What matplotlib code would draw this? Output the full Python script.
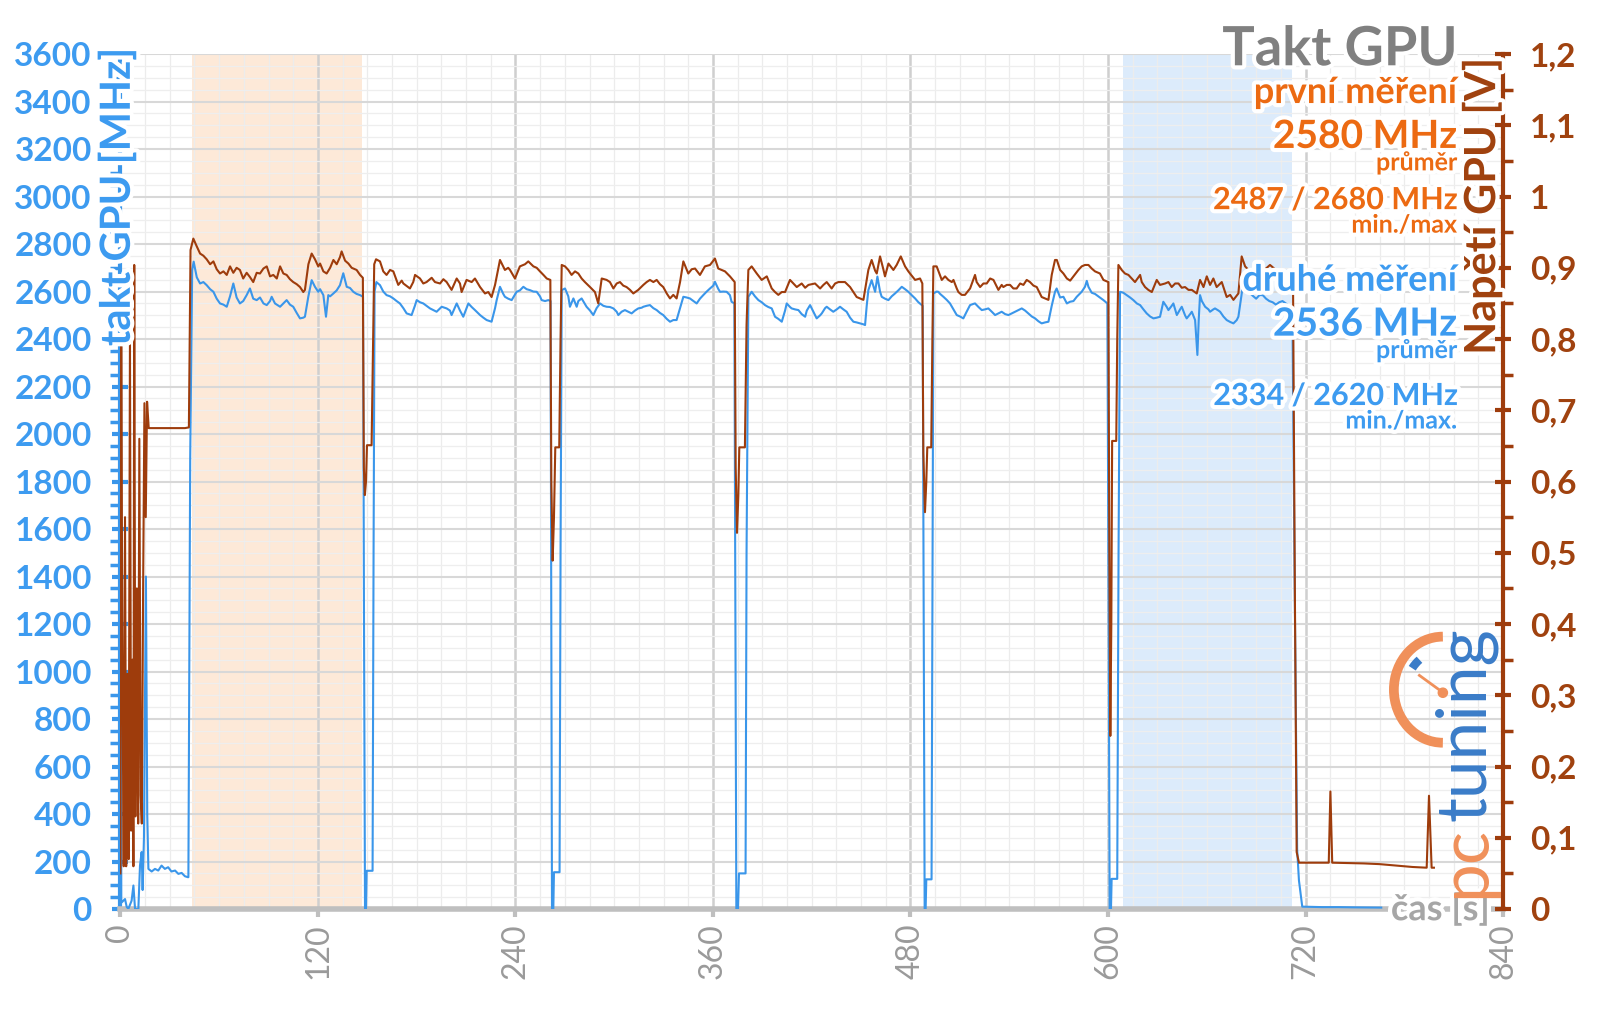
import matplotlib
matplotlib.use('Agg')
import matplotlib.pyplot as plt
import matplotlib.patheffects as pe
from matplotlib.patches import Arc, Circle
from matplotlib.ticker import MultipleLocator, FuncFormatter

# --- data: (time [s], clock [MHz]) for the 2nd run
blue_points = [
    (0.0, 2367), (0.5, 40), (0.8, 28), (2.8, 42), (3.8, 10), (4.8, 0), (6.8, 35), (7.9, 99),
    (8.9, 0), (10.9, 0), (11.9, 183), (12.9, 240), (13.5, 80), (14.3, 300), (15.5, 1400),
    (16.3, 400), (17.0, 169), (19.0, 158), (21.0, 169), (23.0, 162), (25.0, 183), (27.0, 169),
    (29.0, 176), (31.0, 158), (33.2, 162), (35.2, 148), (37.2, 152), (39.2, 138), (41.0, 134),
    (41.3, 134), (42.4, 1900), (43.6, 2690), (44.5, 2726), (46.4, 2660), (48.4, 2634),
    (50.4, 2640), (52.4, 2627), (54.5, 2610), (56.5, 2599), (58.5, 2570), (60.5, 2550),
    (62.6, 2545), (64.6, 2536), (66.6, 2580), (68.6, 2634), (70.6, 2575), (72.6, 2550),
    (74.6, 2560), (76.7, 2585), (78.7, 2613), (80.7, 2570), (82.8, 2564), (84.8, 2575),
    (86.9, 2550), (88.9, 2543), (90.9, 2560), (91.9, 2578), (93.9, 2550), (95.0, 2545),
    (97.0, 2536), (99.0, 2550), (101.0, 2564), (103.0, 2545), (105.0, 2536), (107.1, 2510),
    (109.1, 2487), (111.1, 2490), (112.1, 2494), (114.2, 2580), (116.2, 2648), (118.2, 2620),
    (120.2, 2599), (121.3, 2610), (123.3, 2585), (124.9, 2494), (126.3, 2585), (127.4, 2580),
    (129.4, 2592), (131.4, 2605), (133.4, 2627), (135.4, 2677), (137.5, 2620), (139.5, 2615),
    (141.5, 2599), (143.5, 2590), (145.6, 2585), (147.4, 2578),
    (148.0, 1200), (148.6, 0), (149.2, 0), (149.6, 161), (153.2, 161), (153.8, 1500),
    (154.4, 2600), (155.5, 2640), (157.7, 2627), (159.7, 2600), (161.7, 2585), (163.8, 2580),
    (165.8, 2571), (167.8, 2560), (169.8, 2550), (171.9, 2530), (173.9, 2508), (176.9, 2501),
    (178.9, 2540), (180.0, 2564), (182.0, 2555), (184.0, 2550), (186.0, 2540), (188.1, 2529),
    (190.1, 2522), (192.1, 2515), (195.2, 2536), (198.2, 2529), (200.2, 2520), (201.2, 2501),
    (204.3, 2550), (206.3, 2520), (208.3, 2494), (210.3, 2530), (211.4, 2550), (213.4, 2535),
    (215.4, 2522), (218.5, 2501), (220.5, 2490), (222.5, 2480), (225.5, 2473), (227.6, 2530),
    (228.6, 2564), (230.6, 2620), (232.6, 2590), (233.6, 2578), (235.6, 2570), (237.7, 2564),
    (240.7, 2599), (242.7, 2605), (244.8, 2620), (246.8, 2610), (248.8, 2606), (250.9, 2600),
    (252.9, 2599), (254.9, 2580), (255.9, 2564), (258.0, 2560), (260.0, 2564), (261.3, 2560),
    (261.8, 1200), (262.2, 0), (263.0, 0), (263.4, 155), (266.8, 155), (267.4, 1500),
    (268.1, 2606), (270.1, 2613), (272.1, 2580), (273.1, 2536), (275.2, 2571), (277.2, 2536),
    (278.2, 2560), (280.2, 2571), (283.2, 2536), (285.3, 2520), (287.3, 2501), (289.3, 2530),
    (291.4, 2550), (293.4, 2540), (295.4, 2536), (297.4, 2535), (299.5, 2529), (301.5, 2515),
    (302.5, 2501), (304.5, 2515), (306.5, 2522), (308.5, 2515), (310.6, 2508), (312.6, 2520),
    (314.6, 2529), (316.7, 2532), (317.7, 2536), (319.7, 2540), (321.7, 2543), (323.8, 2530),
    (325.8, 2522), (327.8, 2510), (329.8, 2501), (331.9, 2485), (333.9, 2473), (335.9, 2480),
    (337.9, 2480), (340.0, 2530), (342.0, 2578), (344.0, 2575), (346.0, 2571), (348.1, 2560),
    (350.1, 2550), (352.1, 2570), (354.1, 2585), (356.2, 2600), (358.2, 2613), (360.2, 2625),
    (361.2, 2641), (363.3, 2610), (364.3, 2599), (366.3, 2600), (368.3, 2599), (370.3, 2585),
    (371.3, 2557), (373.0, 2550),
    (373.6, 1200), (374.2, 0), (375.2, 0), (375.8, 150), (379.8, 150), (380.4, 1500),
    (381.5, 2578), (383.5, 2599), (385.5, 2580), (387.6, 2564), (389.6, 2555), (391.6, 2543),
    (393.6, 2535), (395.7, 2529), (397.7, 2494), (399.7, 2485), (401.8, 2473), (403.8, 2520),
    (404.8, 2550), (406.8, 2535), (407.8, 2529), (409.8, 2525), (411.9, 2522), (413.9, 2505),
    (416.0, 2494), (417.0, 2520), (419.0, 2543), (421.0, 2515), (423.0, 2487), (425.1, 2500),
    (426.1, 2508), (428.1, 2530), (429.1, 2536), (431.1, 2525), (433.1, 2515), (435.2, 2525),
    (437.2, 2536), (439.2, 2525), (441.2, 2515), (443.3, 2490), (445.3, 2473), (447.3, 2470),
    (449.3, 2466), (451.4, 2462), (452.4, 2459), (453.4, 2540), (454.4, 2606), (456.4, 2648),
    (458.5, 2599), (459.9, 2663), (461.5, 2600), (462.5, 2578), (464.5, 2570), (466.6, 2564),
    (468.6, 2580), (470.6, 2592), (472.6, 2605), (474.7, 2620), (476.7, 2610), (478.7, 2599),
    (480.7, 2585), (482.8, 2571), (484.8, 2555), (486.8, 2543), (487.4, 2540),
    (488.0, 1200), (488.6, 0), (489.2, 0), (489.6, 125), (492.8, 125), (493.4, 1500),
    (493.9, 2592), (495.9, 2600), (496.9, 2599), (498.0, 2590), (500.0, 2578), (502.0, 2565),
    (504.0, 2550), (506.1, 2525), (508.1, 2501), (510.1, 2495), (512.1, 2487), (514.1, 2515),
    (516.2, 2543), (518.2, 2548), (519.2, 2550), (521.3, 2535), (523.3, 2522), (525.3, 2525),
    (527.3, 2529), (529.4, 2515), (531.4, 2501), (533.4, 2508), (535.4, 2515), (537.5, 2505),
    (539.5, 2501), (541.5, 2508), (543.5, 2515), (545.6, 2522), (547.6, 2529), (549.6, 2520),
    (551.6, 2508), (553.7, 2495), (555.7, 2487), (557.7, 2475), (559.7, 2466), (561.7, 2470),
    (563.8, 2473), (565.8, 2540), (567.8, 2599), (568.8, 2613), (570.9, 2575), (572.9, 2578),
    (575.0, 2550), (576.9, 2557), (579.0, 2560), (581.0, 2578), (584.0, 2599), (586.0, 2620),
    (587.1, 2645), (588.1, 2620), (590.1, 2595), (592.1, 2590), (594.1, 2580), (596.2, 2570),
    (597.2, 2564), (599.6, 2550),
    (600.4, 1200), (601.0, 0), (601.8, 0), (602.2, 127), (605.6, 127), (606.4, 1500),
    (607.3, 2599), (609.3, 2595), (611.4, 2585), (613.4, 2575), (615.4, 2564), (617.5, 2550),
    (619.5, 2543), (621.5, 2525), (623.5, 2508), (625.6, 2495), (627.6, 2487), (629.6, 2490),
    (631.6, 2494), (633.6, 2557), (635.7, 2535), (636.7, 2522), (638.7, 2540), (639.7, 2550),
    (641.8, 2501), (643.8, 2525), (644.8, 2536), (646.8, 2500), (647.8, 2487), (649.9, 2505),
    (650.9, 2515), (652.9, 2480), (654.3, 2333), (655.1, 2480), (655.9, 2585), (657.0, 2560),
    (659.0, 2536), (661.0, 2525), (662.0, 2515), (664.0, 2525), (665.0, 2529), (667.1, 2520),
    (668.1, 2515), (670.1, 2495), (672.1, 2480), (674.2, 2472), (676.2, 2466), (678.2, 2480),
    (679.2, 2494), (681.0, 2580), (682.3, 2648), (684.3, 2615), (686.3, 2592), (688.3, 2580),
    (690.0, 2570), (692.0, 2585), (694.0, 2585), (696.0, 2570), (698.0, 2560), (700.0, 2555),
    (702.0, 2545), (704.0, 2555), (706.0, 2560), (708.0, 2550), (710.0, 2540), (712.0, 2535),
    (713.6, 1200), (714.9, 251), (716.0, 120), (718.0, 10), (730.0, 8), (740.0, 8),
    (750.0, 7), (766.0, 6),
]

# (time [s], GPU voltage [V])
brown_points = [
    (0.0, 0.05), (0.5, 0.79), (1.3, 0.30), (2.0, 0.06), (2.8, 0.55), (3.5, 0.06), (4.3, 0.33),
    (5.0, 0.07), (5.8, 0.80), (6.5, 0.11), (7.3, 0.35), (7.9, 0.06), (8.4, 0.904), (9.1, 0.13),
    (10.0, 0.45), (10.8, 0.12), (11.5, 0.66), (12.3, 0.16), (13.0, 0.12), (13.8, 0.45),
    (14.6, 0.71), (15.4, 0.55), (16.2, 0.712), (17.2, 0.675), (39.2, 0.675), (41.6, 0.676),
    (42.6, 0.925), (44.3, 0.941), (46.4, 0.930), (48.4, 0.920), (50.4, 0.917), (52.4, 0.912),
    (54.5, 0.905), (56.5, 0.909), (58.5, 0.898), (60.5, 0.892), (62.6, 0.895), (64.6, 0.890),
    (66.6, 0.902), (68.6, 0.893), (70.6, 0.900), (72.6, 0.897), (74.6, 0.885), (76.7, 0.893),
    (78.7, 0.887), (80.7, 0.880), (82.8, 0.893), (84.8, 0.892), (86.9, 0.899), (88.9, 0.902),
    (90.9, 0.888), (92.9, 0.890), (95.0, 0.885), (97.0, 0.902), (99.0, 0.892), (101.0, 0.890),
    (103.0, 0.884), (105.0, 0.880), (107.1, 0.877), (109.1, 0.873), (111.1, 0.866),
    (112.1, 0.869), (114.2, 0.905), (116.2, 0.920), (118.2, 0.912), (120.2, 0.902),
    (121.3, 0.906), (123.3, 0.895), (125.3, 0.892), (127.4, 0.900), (129.4, 0.911),
    (131.4, 0.905), (133.4, 0.915), (134.4, 0.923), (136.5, 0.910), (138.5, 0.906),
    (140.5, 0.900), (143.5, 0.897), (145.6, 0.890), (147.3, 0.886),
    (147.9, 0.62), (148.5, 0.581), (149.2, 0.60), (149.8, 0.651), (152.6, 0.651), (153.4, 0.78),
    (154.2, 0.905), (155.3, 0.912), (157.7, 0.909), (159.7, 0.895), (161.7, 0.890),
    (163.8, 0.897), (165.8, 0.895), (168.8, 0.876), (170.9, 0.882), (171.9, 0.878),
    (175.9, 0.871), (177.9, 0.880), (179.0, 0.890), (182.0, 0.885), (184.0, 0.878),
    (186.0, 0.880), (189.1, 0.886), (191.1, 0.880), (194.2, 0.878), (196.2, 0.884),
    (198.2, 0.880), (201.2, 0.869), (204.3, 0.885), (206.3, 0.878), (207.3, 0.866),
    (210.3, 0.883), (213.4, 0.880), (215.4, 0.885), (218.5, 0.873), (221.5, 0.864),
    (223.5, 0.866), (225.5, 0.859), (227.6, 0.876), (230.6, 0.911), (233.6, 0.897),
    (235.6, 0.900), (236.7, 0.897), (239.7, 0.885), (242.7, 0.902), (245.8, 0.905),
    (247.8, 0.909), (250.9, 0.902), (252.9, 0.900), (254.9, 0.895), (257.0, 0.890),
    (259.0, 0.885), (261.2, 0.883),
    (261.8, 0.60), (262.6, 0.489), (263.4, 0.55), (264.2, 0.648), (266.6, 0.648), (267.4, 0.80),
    (268.1, 0.904), (270.1, 0.902), (272.1, 0.897), (274.1, 0.890), (276.2, 0.895),
    (278.2, 0.892), (280.2, 0.885), (282.2, 0.880), (285.3, 0.873), (288.3, 0.866),
    (290.3, 0.850), (292.4, 0.885), (295.4, 0.883), (297.4, 0.880), (299.5, 0.871),
    (301.5, 0.878), (303.5, 0.880), (305.5, 0.875), (307.5, 0.873), (309.6, 0.869),
    (311.6, 0.864), (314.6, 0.869), (317.7, 0.876), (319.7, 0.880), (321.7, 0.883),
    (323.8, 0.880), (325.8, 0.883), (327.8, 0.877), (329.8, 0.873), (331.9, 0.864),
    (333.9, 0.857), (335.9, 0.862), (337.9, 0.857), (340.0, 0.880), (342.0, 0.909),
    (345.0, 0.892), (347.1, 0.898), (349.1, 0.899), (352.1, 0.890), (355.1, 0.902),
    (358.2, 0.904), (361.2, 0.913), (363.2, 0.899), (365.3, 0.897), (367.3, 0.895),
    (370.3, 0.888), (373.2, 0.880),
    (373.8, 0.62), (374.6, 0.528), (375.4, 0.58), (376.0, 0.648), (379.4, 0.648), (380.4, 0.82),
    (381.5, 0.897), (383.5, 0.902), (386.6, 0.892), (389.6, 0.883), (392.7, 0.888),
    (395.7, 0.871), (397.7, 0.866), (399.7, 0.862), (401.8, 0.866), (403.8, 0.866),
    (406.8, 0.883), (410.9, 0.873), (413.9, 0.878), (416.0, 0.872), (418.0, 0.876),
    (422.0, 0.878), (425.1, 0.871), (427.1, 0.876), (429.1, 0.880), (432.1, 0.871),
    (434.2, 0.878), (436.2, 0.880), (440.2, 0.880), (443.3, 0.873), (445.3, 0.866),
    (447.3, 0.859), (449.3, 0.857), (451.4, 0.855), (454.4, 0.897), (456.4, 0.911),
    (458.5, 0.896), (459.5, 0.892), (461.5, 0.916), (463.5, 0.898), (464.5, 0.888),
    (466.6, 0.906), (469.6, 0.897), (471.6, 0.904), (474.1, 0.916), (476.7, 0.902),
    (478.7, 0.895), (479.7, 0.892), (482.8, 0.883), (485.8, 0.885), (487.2, 0.878),
    (487.8, 0.64), (488.8, 0.557), (489.6, 0.60), (490.2, 0.648), (492.6, 0.648), (493.3, 0.80),
    (493.9, 0.902), (495.9, 0.902), (497.9, 0.890), (499.0, 0.883), (501.0, 0.888),
    (503.0, 0.883), (505.1, 0.880), (506.1, 0.883), (508.1, 0.871), (509.1, 0.866),
    (511.1, 0.862), (513.1, 0.862), (516.2, 0.871), (519.2, 0.890), (520.2, 0.880),
    (522.3, 0.873), (524.3, 0.878), (526.3, 0.878), (528.4, 0.885), (530.4, 0.883),
    (533.4, 0.869), (535.4, 0.876), (536.4, 0.873), (538.5, 0.876), (540.5, 0.876),
    (542.5, 0.871), (544.5, 0.871), (546.6, 0.878), (548.6, 0.876), (550.6, 0.883),
    (552.6, 0.880), (554.7, 0.875), (556.7, 0.873), (559.7, 0.859), (561.7, 0.857),
    (563.8, 0.855), (565.8, 0.890), (567.8, 0.911), (568.9, 0.911), (570.9, 0.897),
    (572.9, 0.892), (575.0, 0.885), (577.0, 0.882), (579.0, 0.888), (582.0, 0.897),
    (584.0, 0.902), (586.0, 0.904), (588.1, 0.904), (590.1, 0.899), (592.1, 0.895),
    (595.1, 0.892), (597.2, 0.883), (600.2, 0.880),
    (600.8, 0.50), (601.4, 0.243), (602.0, 0.40), (602.5, 0.657), (605.0, 0.657), (605.6, 0.80),
    (606.3, 0.904), (608.3, 0.897), (610.3, 0.892), (612.4, 0.890), (614.4, 0.885),
    (616.4, 0.880), (619.5, 0.890), (620.5, 0.880), (622.5, 0.873), (624.5, 0.869),
    (626.6, 0.866), (629.6, 0.883), (631.6, 0.876), (634.7, 0.878), (636.7, 0.880),
    (638.7, 0.873), (640.8, 0.878), (642.8, 0.878), (644.8, 0.872), (646.8, 0.873),
    (648.9, 0.869), (650.9, 0.869), (653.9, 0.864), (655.9, 0.883), (658.0, 0.873),
    (660.0, 0.888), (662.0, 0.876), (664.0, 0.885), (666.0, 0.873), (669.1, 0.880),
    (672.1, 0.859), (674.2, 0.862), (676.2, 0.855), (679.2, 0.864), (681.2, 0.916),
    (683.3, 0.902), (687.0, 0.893), (691.0, 0.888), (695.0, 0.897), (698.4, 0.904),
    (702.0, 0.897), (706.0, 0.890), (710.0, 0.883), (712.4, 0.880),
    (713.5, 0.45), (714.6, 0.08), (716.0, 0.065), (734.1, 0.065), (735.1, 0.165),
    (736.2, 0.065), (755.3, 0.064), (765.0, 0.063), (775.0, 0.061), (785.0, 0.059),
    (793.6, 0.058), (795.0, 0.159), (796.6, 0.058), (798.0, 0.058),
]

band_first = (43.4, 146.9)    # první měření
band_second = (608.8, 711.7)  # druhé měření

x_ticks = [0, 120, 240, 360, 480, 600, 720, 840]

BLUE = '#3a96ea'
BLUE_TXT = '#3d9bf0'
BROWN = '#9e3c0c'
ORANGE = '#ec6a12'
GREY = '#808080'

plt.rcParams['font.family'] = ['Lato', 'DejaVu Sans']

W, H = 1568.0, 989.0  # reference coordinates used for placing things


def fx(x):
    return x / W


def fy(y):
    return 1 - y / H


fig = plt.figure(figsize=(16, 10.09), dpi=100)
ax = fig.add_axes([fx(118), fy(891), fx(1473) - fx(118), fy(53) - fy(891)])
ax2 = ax.twinx()

ax.set_xlim(0, 840)
ax.set_ylim(0, 3600)
ax2.set_ylim(0, 1.2)

# shaded windows
ax.axvspan(*band_first, color='#fde9d8', zorder=0.2, lw=0)
ax.axvspan(*band_second, color='#dcebfb', zorder=0.2, lw=0)

# grid
ax.xaxis.set_major_locator(MultipleLocator(120))
ax.xaxis.set_minor_locator(MultipleLocator(15))
ax.yaxis.set_major_locator(MultipleLocator(200))
ax.yaxis.set_minor_locator(MultipleLocator(50))
ax.grid(which='major', axis='y', color='#d8d8d8', lw=1.5, zorder=0.5)
ax.grid(which='minor', axis='y', color='#eeeeee', lw=0.9, zorder=0.4)
ax.grid(which='major', axis='x', color='#cfcfcf', lw=1.8, zorder=0.5)
ax.grid(which='minor', axis='x', color='#ececec', lw=0.9, zorder=0.4)
ax.set_axisbelow(True)

bt, bv = zip(*blue_points)
rt, rv = zip(*brown_points)
ax.plot(bt, bv, color=BLUE, lw=1.5, zorder=3)
ax2.plot(rt, rv, color=BROWN, lw=1.5, zorder=3)

# spines
ax.spines['top'].set_visible(False)
ax2.spines['top'].set_visible(False)
ax.spines['right'].set_visible(False)
ax2.spines['left'].set_visible(False)
ax2.spines['bottom'].set_visible(False)
ax.spines['left'].set_color(BLUE)
ax.spines['left'].set_linewidth(3)
ax.spines['bottom'].set_color('#bfbfbf')
ax.spines['bottom'].set_linewidth(4)
ax2.spines['right'].set_color(BROWN)
ax2.spines['right'].set_linewidth(3)

# left axis ticks
ax.tick_params(axis='y', which='major', direction='inout', length=11, width=3,
               color=BLUE, labelcolor=BLUE_TXT, labelsize=24, pad=15)
ax.tick_params(axis='y', which='minor', direction='out', length=7, width=2.5, color=BLUE)
for lab in ax.get_yticklabels():
    lab.set_fontweight('bold')
ax.yaxis.set_major_formatter(FuncFormatter(lambda v, p: f'{int(v)}'))

# bottom ticks
ax.set_xticks(x_ticks)
ax.tick_params(axis='x', which='major', direction='out', length=6, width=3,
               color='#bfbfbf', labelcolor='#9a9a9a', labelsize=23, pad=4,
               labelrotation=90)
ax.tick_params(axis='x', which='minor', length=0)

# right axis ticks
ax2.yaxis.set_major_locator(MultipleLocator(0.1))
ax2.yaxis.set_minor_locator(MultipleLocator(0.05))
ax2.yaxis.set_major_formatter(FuncFormatter(
    lambda v, p: ('%g' % round(v, 1)).replace('.', ',')))
ax2.tick_params(axis='y', which='major', direction='inout', length=11, width=3,
                color=BROWN, labelcolor='#a0420f', labelsize=24, pad=14)
ax2.tick_params(axis='y', which='minor', direction='out', length=7, width=2.5, color=BROWN)
for lab in ax2.get_yticklabels():
    lab.set_fontweight('bold')

glow = [pe.withStroke(linewidth=6, foreground='white')]

# axis titles
fig.text(fx(115), fy(47), 'takt GPU [MHz]', rotation=90, ha='center', va='top',
         color=BLUE_TXT, fontsize=30, fontweight='bold', path_effects=glow)
fig.text(fx(1452), fy(57), 'Napětí GPU [V]', rotation=90, ha='center', va='top',
         color='#a0420f', fontsize=31, fontweight='bold', path_effects=glow)
fig.text(fx(1460), fy(902), 'čas [s]', ha='right', va='baseline',
         color='#a6a6a6', fontsize=26, fontweight='bold', path_effects=glow)

# summary block
xr = fx(1428)
notes = [
    ('Takt GPU', GREY, 39, 64),
    ('první měření', ORANGE, 26, 101),
    ('2580 MHz', ORANGE, 28, 145),
    ('průměr', ORANGE, 18, 167),
    ('2487 / 2680 MHz', ORANGE, 22, 205),
    ('min./max', ORANGE, 18, 228),
    ('druhé měření', BLUE_TXT, 26, 285),
    ('2536 MHz', BLUE_TXT, 28, 329),
    ('průměr', BLUE_TXT, 18, 351),
    ('2334 / 2620 MHz', BLUE_TXT, 22, 397),
    ('min./max.', BLUE_TXT, 18, 420),
]
for txt, col, size, base in notes:
    fig.text(xr, fy(base), txt, ha='right', va='baseline', color=col,
             fontsize=size, fontweight='bold', path_effects=glow, zorder=10)

# pctuning logo
lax = fig.add_axes([fx(1340), fy(900), fx(1480) - fx(1340), fy(570) - fy(900)])
lax.set_xlim(1340, 1480)
lax.set_ylim(900, 570)
lax.axis('off')
lax.patch.set_visible(False)
lax.add_patch(Arc((1414, 676), 96, 104, theta1=90, theta2=270, color='#f0905a', lw=7))
lax.add_patch(Arc((1414, 676), 72, 76, theta1=215, theta2=232, color='#3a7cc8', lw=6,
                  capstyle='butt'))
lax.plot([1391, 1413], [662, 678], color='#f0905a', lw=2)
lax.add_patch(Circle((1414, 679), 4.5, color='#f0905a'))
fig.text(fx(1436), fy(880), 'pc', rotation=90, ha='center', va='bottom',
         color='#f0905a', fontsize=50)
fig.text(fx(1436), fy(805), 'tuning', rotation=90, ha='center', va='bottom',
         color='#3a7cc8', fontsize=50)

fig.savefig('out.png', dpi=100)
